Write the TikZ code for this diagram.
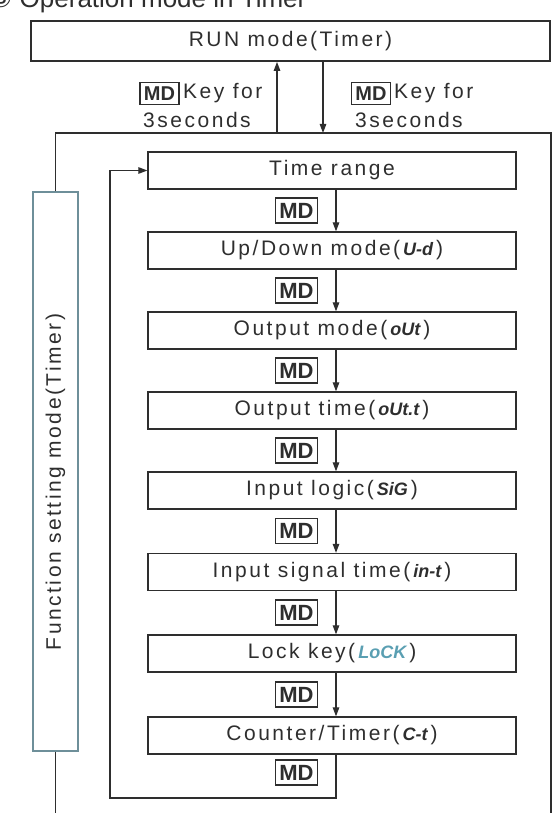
\documentclass[tikz,border=0pt]{standalone}
\usepackage{fontspec}
\setmainfont{Liberation Sans}[LetterSpace=12]
\newfontfamily\mdf{Liberation Sans}
\newfontfamily\segf{Liberation Sans}
\newfontfamily\circf{DejaVu Sans}
\newfontfamily\titlef{Liberation Sans}
\usetikzlibrary{arrows.meta}
\definecolor{linec}{HTML}{2E2E2E}
\definecolor{fnc}{HTML}{6E8F99}
\definecolor{lockc}{HTML}{5A9FB2}
\newcommand\sevseg[1]{{\segf\bfseries\itshape\fontsize{18}{20}\selectfont\,#1\,}}
\begin{document}
\begin{tikzpicture}[x=1pt,y=-1pt,
  txt/.style={font=\fontsize{21}{24}\selectfont, inner sep=0pt, text=linec},
  stepbox/.style={draw=linec, line width=1.3pt, minimum width=368pt, minimum height=37pt, inner sep=0pt, font=\fontsize{21}{24}\selectfont, text=linec},
  mdbox/.style={draw=linec, line width=1.6pt, minimum width=42pt, minimum height=25pt, inner sep=0pt, font=\mdf\bfseries\fontsize{22}{24}\selectfont, text=linec},
  mdsmall/.style={mdbox, minimum width=39pt, minimum height=22pt, font=\mdf\bfseries\fontsize{20}{22}\selectfont},
  arr/.style={-{Triangle[length=9pt,width=6.5pt]}, line width=1.2pt, draw=linec},
  wire/.style={line width=1.3pt, draw=linec}]
\useasboundingbox (0,0) rectangle (559,813);

% title (cut off at top, as in the reference)
\node[anchor=base west, inner sep=0pt, font=\titlef\fontsize{26}{30}\selectfont, text=linec] (title) at (-11,8) {{\circf ③} Operation mode in Timer};

% RUN box
\node[draw=linec, line width=1.8pt, minimum width=519pt, minimum height=40pt, inner sep=0pt, font=\fontsize{21}{24}\selectfont, text=linec] (run) at (290.5,41) {RUN mode(Timer)};

% outer frame
\node[draw=fnc, line width=1.3pt, minimum width=45pt, minimum height=559pt, inner sep=0pt] (fn) at (55.5,471.5) {};
\node[txt, rotate=90] (fnt) at (55.5,482) {Function setting mode(Timer)};
\coordinate (otl) at (55.5,133);
\coordinate (otr) at (551,133);
\coordinate (obr) at (551,816);
\coordinate (obl) at (55.5,816);
\draw[wire] (fn.north) -- (otl) -- (otr) -- (obr);
\draw[wire] (fn.south) -- (obl);

% RUN <-> function arrows
\coordinate (ua) at (277,133);
\coordinate (da) at (323,133);
\draw[arr] (ua) -- (run.south -| ua);
\draw[arr] (run.south -| da) -- (da);
\node[mdsmall] (mdl) at (159.5,93.5) {MD};
\node[txt, anchor=west] (kl) at (183,93) {Key for};
\node[txt, anchor=west] (sl) at (143,120) {3seconds};
\node[mdsmall] (mdr) at (371,93.5) {MD};
\node[txt, anchor=west] (kr) at (394,93) {Key for};
\node[txt, anchor=west] (sr) at (355,120) {3seconds};

% step boxes
\node[stepbox] (s1) at (332,170.5) {Time range};
\node[stepbox] (s2) at (332,250.5) {Up/Down mode(\sevseg{U-d})};
\node[stepbox] (s3) at (332,330.5) {Output mode(\sevseg{oUt})};
\node[stepbox] (s4) at (332,410.5) {Output time(\sevseg{oUt.t})};
\node[stepbox] (s5) at (332,490.5) {Input logic(\sevseg{SiG})};
\node[stepbox] (s6) at (332,572) {Input signal time(\sevseg{in-t})};
\node[stepbox] (s7) at (332,653.5) {Lock key(\textcolor{lockc}{\sevseg{LoCK}})};
\node[stepbox] (s8) at (332,735.5) {Counter/Timer(\sevseg{C-t})};

\coordinate (ax) at (336,0);
\draw[arr] (s1.south -| ax) -- (s2.north -| ax);
\draw[arr] (s2.south -| ax) -- (s3.north -| ax);
\draw[arr] (s3.south -| ax) -- (s4.north -| ax);
\draw[arr] (s4.south -| ax) -- (s5.north -| ax);
\draw[arr] (s5.south -| ax) -- (s6.north -| ax);
\draw[arr] (s6.south -| ax) -- (s7.north -| ax);
\draw[arr] (s7.south -| ax) -- (s8.north -| ax);

\node[mdbox] (m1) at (296.5,210.5) {MD};
\node[mdbox] (m2) at (296.5,290.5) {MD};
\node[mdbox] (m3) at (296.5,370.5) {MD};
\node[mdbox] (m4) at (296.5,450.5) {MD};
\node[mdbox] (m5) at (296.5,531) {MD};
\node[mdbox] (m6) at (296.5,612.5) {MD};
\node[mdbox] (m7) at (296.5,694.5) {MD};
\node[mdbox] (m8) at (296.5,772.5) {MD};

% return loop
\coordinate (lb) at (110,798);
\draw[arr] (s8.south -| ax) |- (lb) |- (s1.west);
\end{tikzpicture}
\end{document}
